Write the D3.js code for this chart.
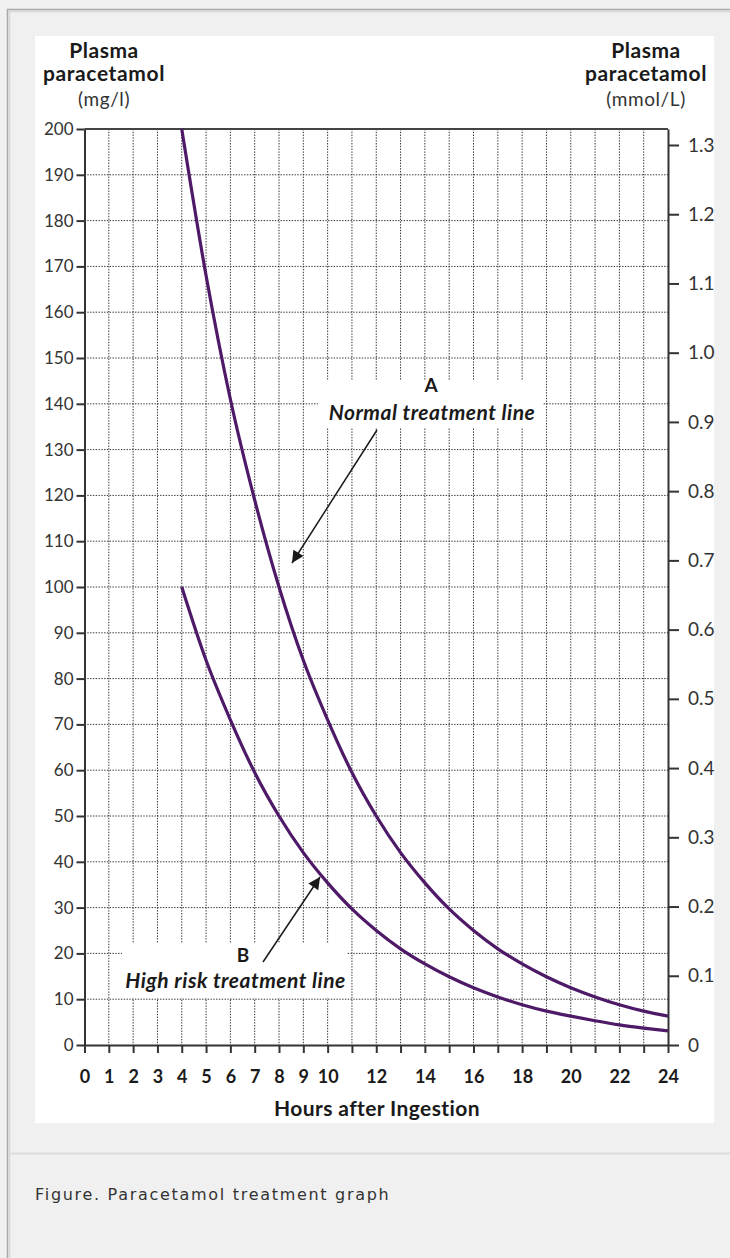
<!DOCTYPE html>
<html>
<head>
<meta charset="utf-8">
<script src="https://cdn.jsdelivr.net/npm/d3@7"></script>
<style>
  html, body { margin: 0; padding: 0; background: #f0f0f0; }
  svg { display: block; }
</style>
</head>
<body>
<svg id="chart" width="730" height="1258"></svg>
<script>
// ---- data ----
const hours = [4,5,6,7,8,9,10,11,12,13,14,15,16,17,18,19,20,21,22,23,24];
const normalLine = [200,168,141,119,100,84,71,59.5,50,42,35.4,29.7,25,21,17.7,14.9,12.5,10.5,8.8,7.4,6.3];
const highRiskLine = [100,84,71,59.5,50,42,35.4,29.7,25,21,17.7,14.9,12.5,10.5,8.8,7.4,6.3,5.3,4.4,3.7,3.1];
const hourTicks = [0,1,2,3,4,5,6,7,8,9,10,11,12,13,14,15,16,17,18,19,20,21,22,23,24];
const hourLabels = [0,1,2,3,4,5,6,7,8,9,10,12,14,16,18,20,22,24];
const mgTicks = [0,10,20,30,40,50,60,70,80,90,100,110,120,130,140,150,160,170,180,190,200];
const mmolTicks = [0,0.1,0.2,0.3,0.4,0.5,0.6,0.7,0.8,0.9,1.0,1.1,1.2,1.3];
const molarMass = 151.16; // mg per mmol of paracetamol

const svg = d3.select("#chart");
const FONT = "Lato, 'Open Sans', sans-serif";

// ---- page frame ----
svg.append("rect").attr("x",0).attr("y",0).attr("width",730).attr("height",1258).attr("fill","#f0f0f0");
svg.append("line").attr("x1",7.5).attr("x2",7.5).attr("y1",9).attr("y2",1258).attr("stroke","#a8a8a8").attr("stroke-width",1.5);
svg.append("line").attr("x1",9.5).attr("x2",9.5).attr("y1",11).attr("y2",1258).attr("stroke","#d6d6d6").attr("stroke-width",1.5);
svg.append("line").attr("x1",7).attr("x2",730).attr("y1",9.5).attr("y2",9.5).attr("stroke","#a8a8a8").attr("stroke-width",1.5);
svg.append("line").attr("x1",9).attr("x2",730).attr("y1",11.5).attr("y2",11.5).attr("stroke","#d6d6d6").attr("stroke-width",1.5);
svg.append("line").attr("x1",10).attr("x2",730).attr("y1",1153.5).attr("y2",1153.5).attr("stroke","#dcdcdc").attr("stroke-width",2);

// white chart image
svg.append("rect").attr("x",35).attr("y",36).attr("width",679).attr("height",1087).attr("fill","#ffffff");

// caption
svg.append("text").attr("x",35).attr("y",1200)
  .attr("font-family","'DejaVu Sans', sans-serif").attr("font-size",16)
  .attr("letter-spacing","1.7px").attr("fill","#333")
  .text("Figure. Paracetamol treatment graph");

// ---- scales ----
const x = d3.scaleLinear().domain([0,24]).range([84.5,668]);
const y = d3.scaleLinear().domain([0,200]).range([1045,129]);
const yR = d3.scaleLinear().domain([0,200/molarMass]).range([1045,129]);

const g = svg.append("g");

// ---- grid ----
const grid = g.append("g").attr("stroke","#333").attr("stroke-width",1).attr("stroke-dasharray","1.4,1.4");
grid.selectAll("line.v").data(hourTicks.filter(h => h>0 && h<24)).join("line")
  .attr("x1", d => x(d)).attr("x2", d => x(d)).attr("y1", y(200)).attr("y2", y(0));
grid.selectAll("line.h").data(mgTicks.filter(v => v>0 && v<200)).join("line")
  .attr("x1", x(0)).attr("x2", x(24)).attr("y1", d => y(d)).attr("y2", d => y(d));

// white label boxes hiding the grid
g.append("rect").attr("x",318).attr("y",380).attr("width",225).attr("height",48).attr("fill","#fff");
g.append("rect").attr("x",122).attr("y",943).attr("width",225).attr("height",55).attr("fill","#fff");

// top frame line
g.append("line").attr("x1",x(0)).attr("x2",x(24)).attr("y1",y(200)).attr("y2",y(200))
  .attr("stroke","#444").attr("stroke-width",1.8);

// ---- axes ----
function styleAxis(sel){
  sel.select(".domain").attr("stroke","#333").attr("stroke-width",2);
  sel.selectAll(".tick line").attr("stroke","#333").attr("stroke-width",2);
  sel.selectAll(".tick text").attr("font-family",FONT).attr("fill","#333");
}

const left = g.append("g").attr("transform",`translate(${x(0)},0)`)
  .call(d3.axisLeft(y).tickValues(mgTicks).tickSize(8).tickSizeOuter(0).tickPadding(3).tickFormat(d3.format("d")));
styleAxis(left);
left.selectAll(".tick text").attr("font-size",17);

const right = g.append("g").attr("transform",`translate(${x(24)},0)`)
  .call(d3.axisRight(yR).tickValues(mmolTicks).tickSize(11).tickSizeOuter(0).tickPadding(9)
    .tickFormat(d => d === 0 ? "0" : d3.format(".1f")(d)));
styleAxis(right);
right.selectAll(".tick text").attr("font-size",19);

const bottom = g.append("g").attr("transform",`translate(0,${y(0)})`)
  .call(d3.axisBottom(x).tickValues(hourTicks).tickSize(8).tickSizeOuter(0)
    .tickFormat(d => hourLabels.includes(d) ? String(d) : ""));
styleAxis(bottom);
bottom.selectAll(".tick text").attr("font-size",18).attr("font-weight","bold").attr("fill","#1a1a1a")
  .attr("y",38).attr("dy",0);

// ---- treatment lines ----
const line = d3.line().x(d => x(d[0])).y(d => y(d[1])).curve(d3.curveMonotoneX);
const lineColor = "#4e1a68";
g.append("path").datum(hours.map((h,i) => [h, normalLine[i]]))
  .attr("d", line).attr("fill","none").attr("stroke",lineColor).attr("stroke-width",3.2);
g.append("path").datum(hours.map((h,i) => [h, highRiskLine[i]]))
  .attr("d", line).attr("fill","none").attr("stroke",lineColor).attr("stroke-width",3.2);

// ---- annotations ----
svg.append("defs").append("marker").attr("id","arrow").attr("viewBox","0 0 10 10")
  .attr("refX",10).attr("refY",5).attr("markerWidth",15).attr("markerHeight",12)
  .attr("markerUnits","userSpaceOnUse").attr("orient","auto")
  .append("path").attr("d","M0,0 L10,5 L0,10 Z").attr("fill","#1a1a1a");

g.append("line").attr("x1",377).attr("y1",430).attr("x2",292).attr("y2",563)
  .attr("stroke","#1a1a1a").attr("stroke-width",1.5).attr("marker-end","url(#arrow)");
g.append("line").attr("x1",263).attr("y1",962).attr("x2",320).attr("y2",877)
  .attr("stroke","#1a1a1a").attr("stroke-width",1.5).attr("marker-end","url(#arrow)");

const ann = g.append("g").attr("font-family",FONT).attr("fill","#1a1a1a").attr("font-weight","bold");
ann.append("text").attr("x",431).attr("y",392).attr("text-anchor","middle").attr("font-size",19).text("A");
ann.append("text").attr("x",432).attr("y",420).attr("text-anchor","middle").attr("font-size",21)
  .attr("letter-spacing","0.5px").attr("font-style","italic").text("Normal treatment line");
ann.append("text").attr("x",243).attr("y",962).attr("text-anchor","middle").attr("font-size",19).text("B");
ann.append("text").attr("x",235.5).attr("y",988).attr("text-anchor","middle").attr("font-size",21)
  .attr("letter-spacing","0.5px").attr("font-style","italic").text("High risk treatment line");

// ---- axis titles ----
const titles = g.append("g").attr("font-family",FONT).attr("fill","#1a1a1a").attr("text-anchor","middle");
[[104,"(mg/l)"],[646,"(mmol/L)"]].forEach(([cx,unit]) => {
  titles.append("text").attr("x",cx).attr("y",58).attr("font-size",21).attr("font-weight","bold")
    .attr("letter-spacing","0.5px").text("Plasma");
  titles.append("text").attr("x",cx).attr("y",81).attr("font-size",21).attr("font-weight","bold")
    .attr("letter-spacing","0.6px").text("paracetamol");
  titles.append("text").attr("x",cx).attr("y",106).attr("font-size",19).attr("fill","#333")
    .attr("letter-spacing","0.6px").text(unit);
});
titles.append("text").attr("x",377).attr("y",1116).attr("font-size",21).attr("font-weight","bold")
  .attr("letter-spacing","0.4px").text("Hours after Ingestion");
</script>
</body>
</html>
